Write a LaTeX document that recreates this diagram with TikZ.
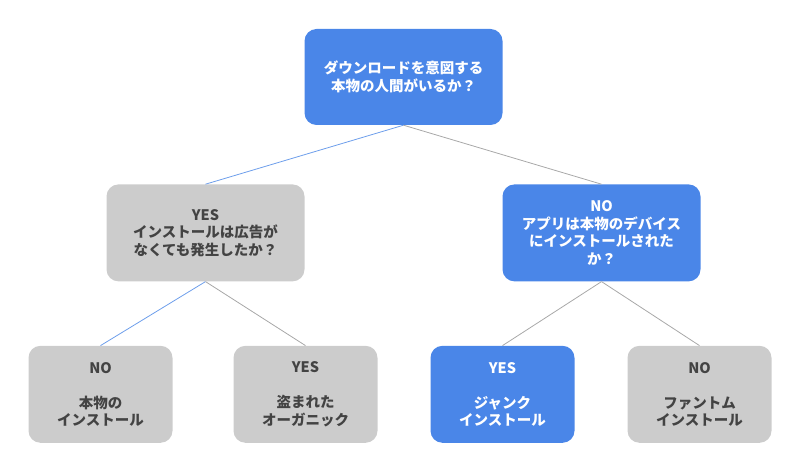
\documentclass[tikz,border=0pt]{standalone}
\usepackage{fontspec}
\setmainfont{Noto Sans CJK JP}
\usepackage{xcolor}
\usepackage{tikz}
\usetikzlibrary{positioning}

\definecolor{nodeblue}{HTML}{4A86E8}
\definecolor{nodegray}{HTML}{CCCCCC}
\definecolor{textgray}{HTML}{434343}
\definecolor{lineblue}{HTML}{6D9EEB}
\definecolor{linegray}{HTML}{A8A8A8}

\begin{document}
\begin{tikzpicture}[
  box/.style={rectangle, rounded corners=12pt, align=center, inner sep=2pt, minimum height=97pt, font=\fontsize{14.5}{17.5}\selectfont\bfseries},
  bluebox/.style={box, fill=nodeblue, text=white},
  graybox/.style={box, fill=nodegray, text=textgray},
  wide/.style={minimum width=198pt},
  narrow/.style={minimum width=144pt},
  blueline/.style={draw=lineblue, line width=0.8pt},
  grayline/.style={draw=linegray, line width=0.8pt}
]
\useasboundingbox (0,0) rectangle (800pt,-470pt);

\node[bluebox, wide, minimum height=96pt] (root) at (403.5pt,-77pt) {ダウンロードを意図する\\本物の人間がいるか？};

\node[graybox, wide, below=59pt of root, xshift=-198pt] (organic) {YES\\インストールは広告が\\なくても発生したか？};
\node[bluebox, wide, below=59pt of root, xshift=198pt] (device) {NO\\アプリは本物のデバイス\\にインストールされた\\か？};

\node[graybox, narrow, below=64pt of organic, xshift=-105pt] (real) {NO\\[17.5pt]本物の\\インストール};
\node[graybox, narrow, below=64pt of organic, xshift=100pt] (stolen) {YES\\[17.5pt]盗まれた\\オーガニック};
\node[bluebox, narrow, below=64pt of device, xshift=-99pt] (junk) {YES\\[17.5pt]ジャンク\\インストール};
\node[graybox, narrow, below=64pt of device, xshift=98pt] (phantom) {NO\\[17.5pt]ファントム\\インストール};

\draw[blueline] (root.south) -- (organic.north);
\draw[grayline] (root.south) -- (device.north);
\draw[blueline] (organic.south) -- (real.north);
\draw[grayline] (organic.south) -- (stolen.north);
\draw[grayline] (device.south) -- (junk.north);
\draw[grayline] (device.south) -- (phantom.north);
\end{tikzpicture}
\end{document}
